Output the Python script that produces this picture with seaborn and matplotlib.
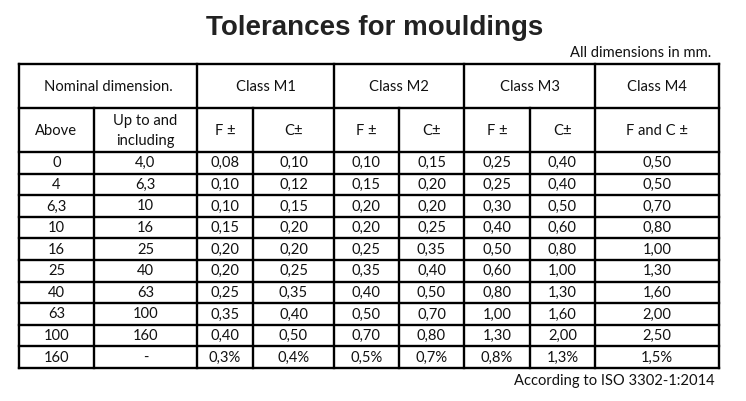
import matplotlib
matplotlib.use("Agg")
import matplotlib.pyplot as plt
import seaborn as sns
import pandas as pd

# Table contents
above = ["0", "4", "6,3", "10", "16", "25", "40", "63", "100", "160"]
up_to = ["4,0", "6,3", "10", "16", "25", "40", "63", "100", "160", "-"]
m1_f = ["0,08", "0,10", "0,10", "0,15", "0,20", "0,20", "0,25", "0,35", "0,40", "0,3%"]
m1_c = ["0,10", "0,12", "0,15", "0,20", "0,20", "0,25", "0,35", "0,40", "0,50", "0,4%"]
m2_f = ["0,10", "0,15", "0,20", "0,20", "0,25", "0,35", "0,40", "0,50", "0,70", "0,5%"]
m2_c = ["0,15", "0,20", "0,20", "0,25", "0,35", "0,40", "0,50", "0,70", "0,80", "0,7%"]
m3_f = ["0,25", "0,25", "0,30", "0,40", "0,50", "0,60", "0,80", "1,00", "1,30", "0,8%"]
m3_c = ["0,40", "0,40", "0,50", "0,60", "0,80", "1,00", "1,30", "1,60", "2,00", "1,3%"]
m4_fc = ["0,50", "0,50", "0,70", "0,80", "1,00", "1,30", "1,60", "2,00", "2,50", "1,5%"]

group_labels = ["Nominal dimension.", "Class M1", "Class M2", "Class M3", "Class M4"]
sub_labels = ["Above", "Up to and\nincluding", "F \u00b1", "C\u00b1", "F \u00b1", "C\u00b1",
              "F \u00b1", "C\u00b1", "F and C \u00b1"]

df = pd.DataFrame({"above": above, "up_to": up_to, "m1_f": m1_f, "m1_c": m1_c,
                   "m2_f": m2_f, "m2_c": m2_c, "m3_f": m3_f, "m3_c": m3_c, "m4": m4_fc})

sns.set_style("white")
plt.rcParams["font.family"] = ["Lato", "DejaVu Sans"]

# layout (pixels)
col_edges = [19, 94, 197, 253, 334, 399, 464, 530, 595, 719]
group_spans = [(0, 2), (2, 4), (4, 6), (6, 8), (8, 9)]
top, h1, h2 = 64, 108, 152
row_h = 21.6
txt = "#111111"
lw = 1.7

fig = plt.figure(figsize=(7.46, 4.01), dpi=100)
ax = fig.add_axes([0, 0, 1, 1])
ax.set_xlim(0, 746)
ax.set_ylim(401, 0)
ax.axis("off")

n = len(df)
bottom = h2 + n * row_h
L, R = col_edges[0], col_edges[-1]

# horizontal lines
for y in [top, h1, h2] + [h2 + i * row_h for i in range(1, n + 1)]:
    ax.plot([L, R], [y, y], color="black", lw=lw, solid_capstyle="projecting")
# vertical lines: group borders full height, inner ones from h1
group_x = [col_edges[a] for a, b in group_spans] + [R]
for x in col_edges:
    y0 = top if x in group_x else h1
    ax.plot([x, x], [y0, bottom], color="black", lw=lw, solid_capstyle="projecting")

fs = 10.6
for (a, b), lab in zip(group_spans, group_labels):
    ax.text((col_edges[a] + col_edges[b]) / 2, (top + h1) / 2 + 1, lab,
            ha="center", va="center", fontsize=fs, color=txt)
for i, lab in enumerate(sub_labels):
    ax.text((col_edges[i] + col_edges[i + 1]) / 2, (h1 + h2) / 2 + 1, lab,
            ha="center", va="center", fontsize=fs, color=txt, linespacing=1.5)

for r in range(n):
    yc = h2 + (r + 0.5) * row_h + 0.5
    for c, col in enumerate(df.columns):
        ax.text((col_edges[c] + col_edges[c + 1]) / 2, yc, df[col].iloc[r],
                ha="center", va="center", fontsize=fs, color=txt)

ax.text(375, 28, "Tolerances for mouldings", ha="center", va="center",
        fontsize=20, fontweight="bold", color="#222222", family="Liberation Sans")
ax.text(711, 53, "All dimensions in mm.", ha="right", va="center", fontsize=fs, color=txt)
ax.text(715, 381, "According to ISO 3302-1:2014", ha="right", va="center", fontsize=fs, color=txt)

fig.savefig("out.png", dpi=100)
